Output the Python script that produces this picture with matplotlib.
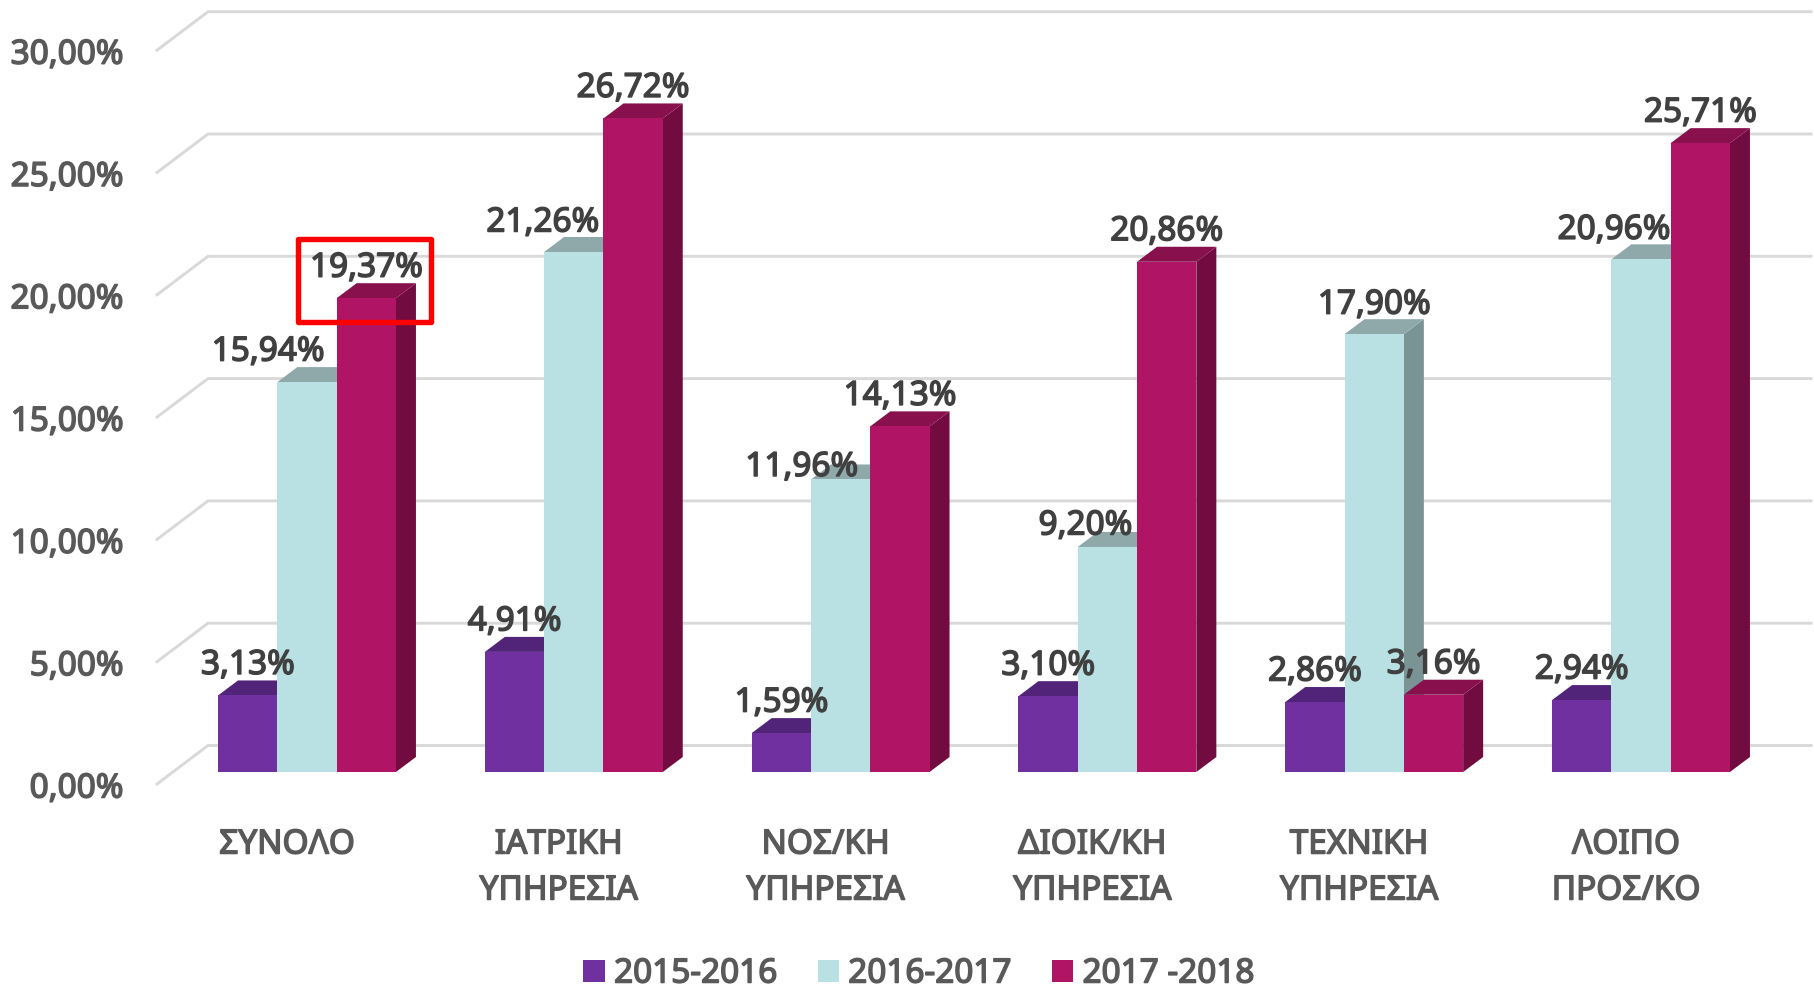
import matplotlib
matplotlib.use("Agg")
import matplotlib.pyplot as plt
import matplotlib.patheffects as pe
import numpy as np
from matplotlib.patches import Polygon, Rectangle

plt.rcParams['font.family'] = ['Noto Sans', 'DejaVu Sans']

categories = ["ΣΥΝΟΛΟ", "ΙΑΤΡΙΚΗ\nΥΠΗΡΕΣΙΑ", "ΝΟΣ/ΚΗ\nΥΠΗΡΕΣΙΑ",
              "ΔΙΟΙΚ/ΚΗ\nΥΠΗΡΕΣΙΑ", "ΤΕΧΝΙΚΗ\nΥΠΗΡΕΣΙΑ", "ΛΟΙΠΟ\nΠΡΟΣ/ΚΟ"]
series_names = ["2015-2016", "2016-2017", "2017 -2018"]
v_1516 = [3.13, 4.91, 1.59, 3.10, 2.86, 2.94]
v_1617 = [15.94, 21.26, 11.96, 9.20, 17.90, 20.96]
v_1718 = [19.37, 26.72, 14.13, 20.86, 3.16, 25.71]
y_ticks = [0, 5, 10, 15, 20, 25, 30]

# label nudges, pixels (the blue labels were moved by hand in the original)
shift_x_1617 = [-39, -31, -39, -22, 0, -27]
shift_y_1617 = [30, 29, 12, 21, 29, 29]
shift_x_cat = [-20, -15, -15, -15, -15, -15]

front = ['#7030A0', '#B9E0E3', '#B01464']
top = ['#512479', '#8FA9AB', '#87104D']
side = ['#3E1B5C', '#7A9395', '#720B40']

# pixel scales of the picture
W, H = 1814, 988
x0, px_group = 307.0, 266.8
y0, px_unit = 772.0, 24.46


def dx(p):
    return p / px_group


def dy(p):
    return p / px_unit


def X(p):
    return (p - x0) / px_group


def Y(p):
    return (y0 - p) / px_unit


def pct(v):
    return ("%.2f%%" % v).replace('.', ',')


def fat(color):
    # the installed Noto Sans only draws regular here, so thicken the outline
    return [pe.withStroke(linewidth=1.1, foreground=color)]


fig = plt.figure(figsize=(W / 100, H / 100), dpi=100)
ax = fig.add_axes([0, 0, 1, 1])
ax.set_xlim(X(0), X(W))
ax.set_ylim(Y(H), Y(0))
ax.axis('off')

# back wall gridlines with the diagonal going to the front
for t in y_ticks:
    ax.plot([X(157), X(208), X(1811)],
            [t + dy(-12), t + dy(26.5), t + dy(26.5)],
            color='#D9D9D9', lw=2.1, zorder=1, solid_joinstyle='miter')
    ax.text(X(123.5), t + dy(-17), pct(t), ha='right', va='center', fontsize=24,
            color='#595959', path_effects=fat('#595959'))

bar_w = dx(59.3)
depth_x, depth_y = dx(20), dy(15)
xs = np.arange(len(categories))
values = [v_1516, v_1617, v_1718]
handles = []

z = 2
for g in xs:
    for s in range(3):
        left = g + (s - 1.5) * bar_w
        v = values[s][g]
        ax.add_patch(Polygon([(left + bar_w, 0), (left + bar_w + depth_x, depth_y),
                              (left + bar_w + depth_x, v + depth_y), (left + bar_w, v)],
                             closed=True, fc=side[s], ec='none', zorder=z))
        ax.add_patch(Polygon([(left, v), (left + depth_x, v + depth_y),
                              (left + bar_w + depth_x, v + depth_y), (left + bar_w, v)],
                             closed=True, fc=top[s], ec='none', zorder=z))
        b = ax.bar(left, v, bar_w, align='edge', color=front[s], lw=0, zorder=z + 0.5)
        if g == 0:
            handles.append(b[0])
        z += 1

for g in xs:
    for s in range(3):
        off_x, off_y = 0, 30
        if s == 1:
            off_x, off_y = shift_x_1617[g], shift_y_1617[g]
        v = values[s][g]
        ax.annotate(pct(v), (g + (s - 1) * bar_w, v),
                    xytext=(off_x, off_y), textcoords='offset pixels',
                    ha='center', va='center', fontsize=24, color='#404040',
                    zorder=100, path_effects=fat('#404040'))

for g, c in zip(xs, categories):
    for i, line in enumerate(c.split("\n")):
        ax.text(g + dx(shift_x_cat[g]), Y(845 + 46 * i), line, ha='center', va='center',
                fontsize=24, color='#595959', path_effects=fat('#595959'))

# red highlight box round the first total label
fig.add_artist(Rectangle((298 / W, 1 - 322.5 / H), 133 / W, 83 / H,
                         transform=fig.transFigure, fill=False, ec='#FF0000', lw=3.9,
                         joinstyle='round', zorder=200))

leg = ax.legend(handles, series_names, ncol=3, loc='center',
                bbox_to_anchor=(919 / W, 1 - 974 / H),
                frameon=False, handlelength=0.64, handleheight=0.64, handletextpad=0.28,
                columnspacing=1.2, labelcolor='#595959', prop={'size': 24},
                borderpad=0, borderaxespad=0)
for t in leg.get_texts():
    t.set_path_effects(fat('#595959'))

fig.savefig("out.png", dpi=100)
